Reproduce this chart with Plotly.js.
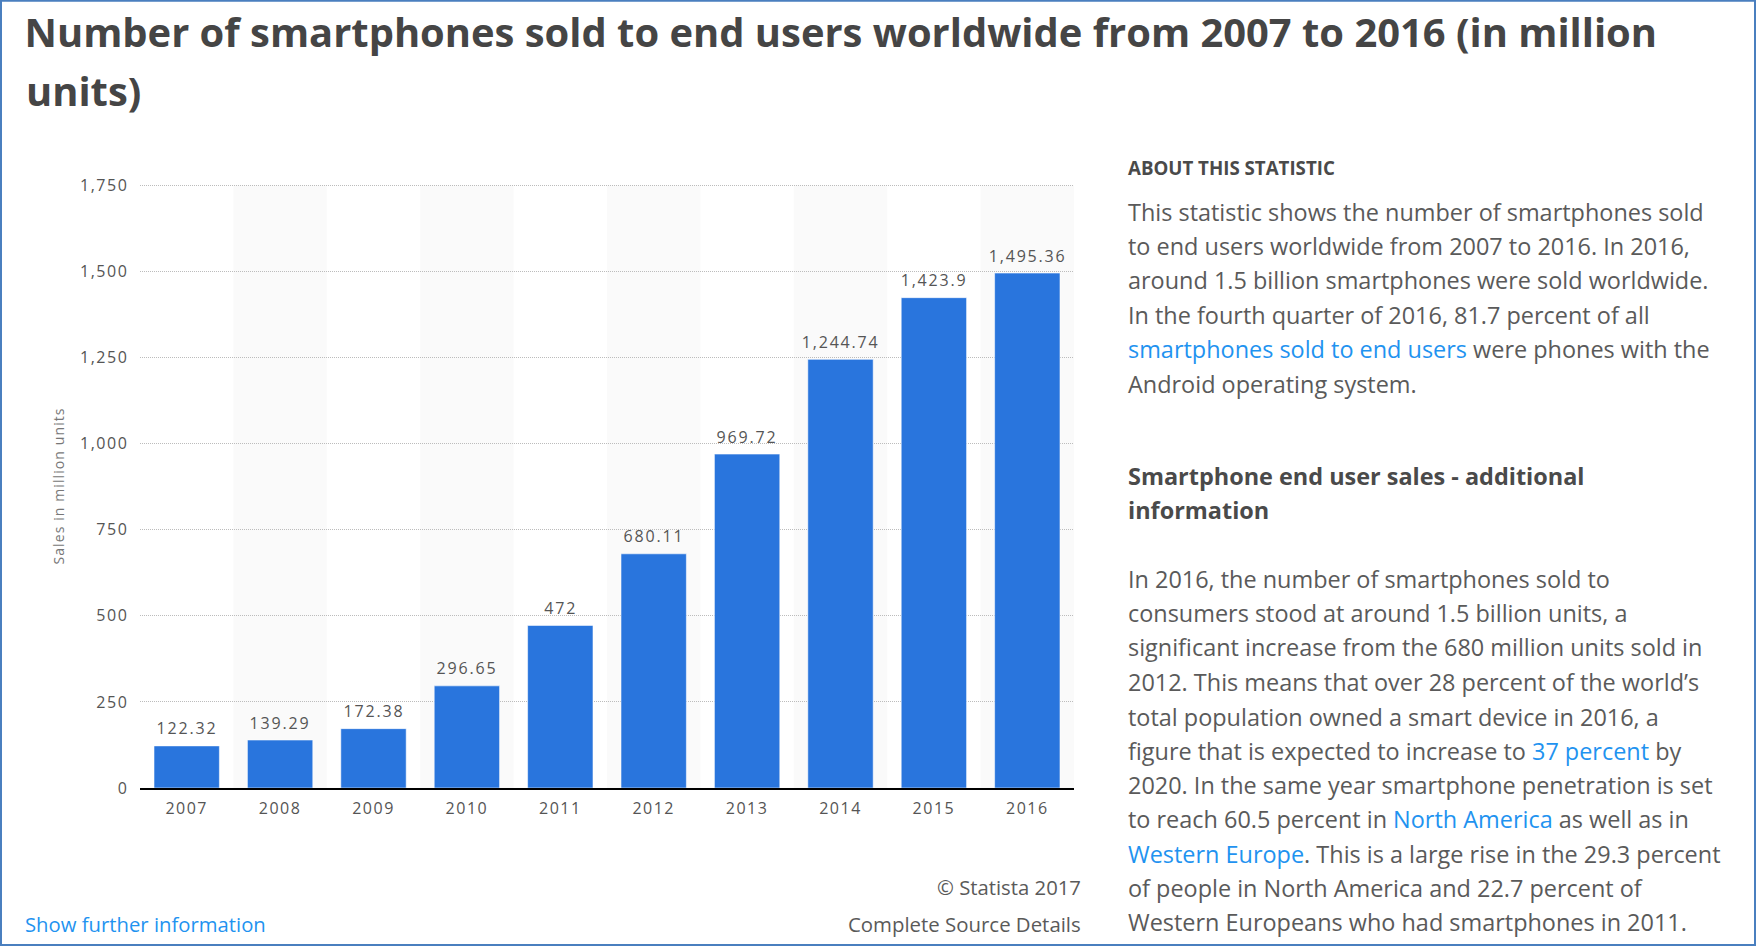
<!DOCTYPE html>
<html><head><meta charset="utf-8">
<script src="https://cdn.plot.ly/plotly-3.0.1.min.js"></script>
<style>
html,body{margin:0;padding:0;background:#fff;overflow:hidden}
.xtick text,.ytick text{letter-spacing:1.5px}
.ytitle{letter-spacing:1.1px}
</style></head><body><div id="chart" style="width:1756px;height:946px"></div>
<script>
const W=1756,H=946;
const years=['2007','2008','2009','2010','2011','2012','2013','2014','2015','2016'];
const sales=[122.32,139.29,172.38,296.65,472,680.11,969.72,1244.74,1423.9,1495.36];
const salesLabels=['122.32','139.29','172.38','296.65','472','680.11','969.72','1,244.74','1,423.9','1,495.36'];
const shadedBands=[1,3,5,7,9];
const titleLine1='Number of smartphones sold to end users worldwide from 2007 to 2016 (in million';
const titleLine2='units)';
const LINK=t=>'<span style="color:#1f93f0">'+t+'</span>';
const aboutLines=[
 'This statistic shows the number of smartphones sold',
 'to end users worldwide from 2007 to 2016. In 2016,',
 'around 1.5 billion smartphones were sold worldwide.',
 'In the fourth quarter of 2016, 81.7 percent of all',
 LINK('smartphones sold to end users')+' were phones with the',
 'Android operating system.'];
const aboutY=[212,246,280,315,349,384];
const headLines=['<b>Smartphone end user sales - additional</b>','<b>information</b>'];
const headY=[476,510];
const bodyLines=[
 'In 2016, the number of smartphones sold to',
 'consumers stood at around 1.5 billion units, a',
 'significant increase from the 680 million units sold in',
 '2012. This means that over 28 percent of the world’s',
 'total population owned a smart device in 2016, a',
 'figure that is expected to increase to '+LINK('37 percent')+' by',
 '2020. In the same year smartphone penetration is set',
 'to reach 60.5 percent in '+LINK('North America')+' as well as in',
 LINK('Western Europe')+'. This is a large rise in the 29.3 percent',
 'of people in North America and 22.7 percent of',
 'Western Europeans who had smartphones in 2011.'];
const bodyY=[579,613,647.5,682,717,751,785,819.5,854,888.5,922.5];

const L=140,R=1074,B=788.1,T=B-602.5*1754/1750;
const px=x=>(x-L)/(R-L), py=y=>(B-y)/(B-T);
const FF='"Open Sans", sans-serif';
const note=(text,x,y,size,color,anchor)=>({text,x:px(x),y:py(y),xref:'paper',yref:'paper',xanchor:anchor||'left',yanchor:'middle',showarrow:false,align:anchor||'left',font:{family:FF,size,color},borderpad:0});
const annotations=years.map((yr,i)=>({x:i,y:sales[i],xref:'x',yref:'y',text:salesLabels[i],showarrow:false,yanchor:'bottom',yshift:4.5,font:{family:FF,size:16,color:'#555'}}));
annotations.push(
 note('<b>'+titleLine2+'</b>',24.5,90.5,39.9,'#454545'),
 note('<b>ABOUT THIS STATISTIC</b>',1127,168,18.7,'#4a4a4a'),
 note('Show further information',23.5,924.5,20.3,'#1f93f0'),
 note('© Statista 2017',1081.5,887,20.3,'#5a5a5a','right'),
 note('Complete Source Details',1081.5,924.5,20.4,'#5a5a5a','right')
);
aboutLines.forEach((t,i)=>annotations.push(note(t,1127,aboutY[i],23.45,'#5a5a5a')));
headLines.forEach((t,i)=>annotations.push(note(t,1127,headY[i],23.45,'#4a4a4a')));
bodyLines.forEach((t,i)=>annotations.push(note(t,1127,bodyY[i],23.45,'#5a5a5a')));

// value labels are wider-set than the other annotations
const valueCss=document.createElement('style');
valueCss.textContent=years.map((y,i)=>'.annotation[data-index="'+i+'"] text').join(',')+'{letter-spacing:1.8px}';
document.head.appendChild(valueCss);

const shapes=shadedBands.map(i=>({type:'rect',xref:'x',yref:'y',x0:i-.5,x1:i+.5,y0:0,y1:1750,layer:'below',fillcolor:'#fafafa',line:{width:0}}));
shapes.push({type:'rect',xref:'paper',yref:'paper',x0:px(1),x1:px(W-1),y0:py(1),y1:py(H-1),line:{color:'#4a7fbf',width:2},fillcolor:'rgba(0,0,0,0)'});

Plotly.newPlot('chart',[{type:'bar',x:years,y:sales,width:.7,marker:{color:'#2975dd',line:{width:1,color:'rgba(255,255,255,.55)'}},cliponaxis:false,hoverinfo:'x+y'}],{
 width:W,height:H,paper_bgcolor:'#fff',plot_bgcolor:'#fff',showlegend:false,
 margin:{l:L,r:W-R,t:T,b:H-B,autoexpand:false},
 title:{text:'<b>'+titleLine1+'</b>',x:24.5/W,xanchor:'left',xref:'container',y:1-33/H,yanchor:'middle',font:{family:FF,size:39.9,color:'#454545'}},
 xaxis:{type:'category',categoryorder:'array',categoryarray:years,range:[-.5,9.5],showline:true,linecolor:'#000',linewidth:2,ticks:'outside',ticklen:4.5,tickcolor:'rgba(0,0,0,0)',showgrid:false,zeroline:false,tickfont:{family:FF,size:16,color:'#555'}},
 yaxis:{range:[0,1754],tickmode:'array',tickvals:[0,250,500,750,1000,1250,1500,1750],ticktext:['0','250','500','750','1,000','1,250','1,500','1,750'],showgrid:true,gridcolor:'#bcbcbc',griddash:'1px,1px',gridwidth:1,zeroline:false,ticks:'outside',ticklen:7.5,tickcolor:'rgba(0,0,0,0)',tickfont:{family:FF,size:16,color:'#555'},
   title:{text:'Sales in million units',standoff:11.5,font:{family:FF,size:14,color:'#777'}}},
 annotations,shapes
},{displayModeBar:false,responsive:false});
</script></body></html>
